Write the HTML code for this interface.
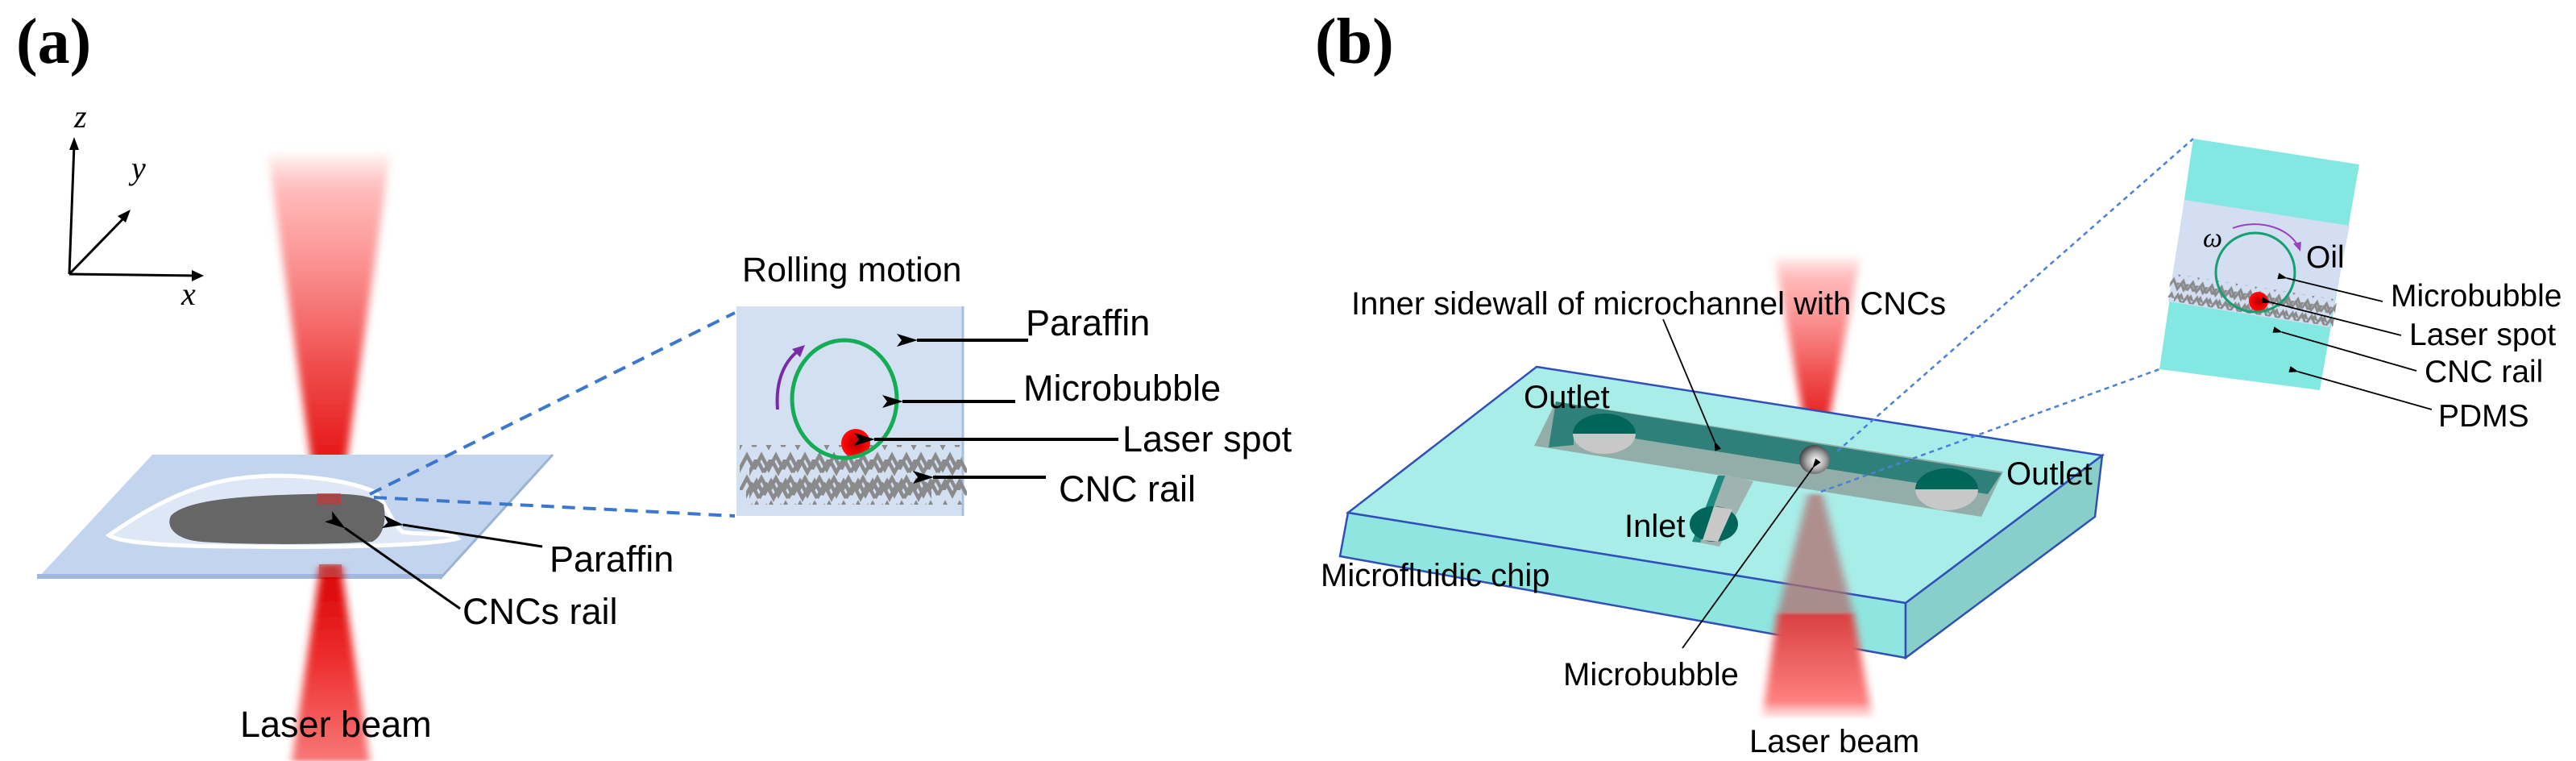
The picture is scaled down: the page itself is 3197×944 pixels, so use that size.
<!DOCTYPE html>
<html><head><meta charset="utf-8"><style>
html,body{margin:0;padding:0;background:#fff;}
svg{display:block;}
text{font-family:"Liberation Sans",sans-serif;fill:#000;}
.s{font-family:"Liberation Serif",serif;}
</style></head><body>
<svg width="3197" height="944" viewBox="0 0 3197 944" xmlns="http://www.w3.org/2000/svg">
<defs>
<linearGradient id="bt" x1="0" y1="0" x2="0" y2="1">
<stop offset="0" stop-color="#ff3030" stop-opacity="0"/>
<stop offset="0.15" stop-color="#ff8080" stop-opacity="0.6"/>
<stop offset="0.6" stop-color="#f05050"/>
<stop offset="1" stop-color="#e00000"/>
</linearGradient>
<linearGradient id="bb" x1="0" y1="0" x2="0" y2="1">
<stop offset="0" stop-color="#d80000"/>
<stop offset="0.5" stop-color="#ee3030"/>
<stop offset="1" stop-color="#f87878"/>
</linearGradient>
<linearGradient id="bb2" x1="0" y1="0" x2="0" y2="1">
<stop offset="0" stop-color="#d84040"/>
<stop offset="0.85" stop-color="#ff8080"/>
<stop offset="1" stop-color="#ffb0b0" stop-opacity="0.3"/>
</linearGradient>
<filter id="bl"><feGaussianBlur stdDeviation="5,2"/></filter>
<radialGradient id="bub" cx="0.55" cy="0.55" r="0.6">
<stop offset="0" stop-color="#fff"/><stop offset="0.5" stop-color="#aaa"/><stop offset="1" stop-color="#333"/>
</radialGradient>
<radialGradient id="rs" cx="0.5" cy="0.5" r="0.5">
<stop offset="0" stop-color="#b00000"/><stop offset="0.6" stop-color="#f00000"/><stop offset="1" stop-color="#ff1010"/>
</radialGradient>
<pattern id="zz" width="36" height="28" patternUnits="userSpaceOnUse">
<polyline points="0,22 9,5 18,22 27,5 36,22" fill="none" stroke="#8a8a8a" stroke-width="4.5"/>
</pattern>
<pattern id="zz2" width="24" height="18" patternUnits="userSpaceOnUse">
<polyline points="0,14 6,3 12,14 18,3 24,14" fill="none" stroke="#8a8a8a" stroke-width="3"/>
</pattern>
<marker id="ah" markerWidth="12" markerHeight="8" refX="1" refY="4" orient="auto" markerUnits="userSpaceOnUse">
<path d="M12,0 L0,4 L12,8 Z" fill="#000"/>
</marker>
<marker id="ahb" markerWidth="26" markerHeight="16" refX="1" refY="8" orient="auto" markerUnits="userSpaceOnUse">
<path d="M26,0 L0,8 L26,16 L20,8 Z" fill="#000"/>
</marker>
</defs>

<!-- (a) -->
<text class="s" x="20" y="78" font-size="80" font-weight="bold">(a)</text>
<g stroke="#000" stroke-width="3" fill="none">
<line x1="86" y1="340" x2="92" y2="180"/>
<line x1="86" y1="340" x2="158" y2="266"/>
<line x1="86" y1="340" x2="245" y2="342"/>
</g>
<path d="M92,170 L86,186 L98,186 Z" fill="#000"/>
<path d="M162,260 L146,268 L156,276 Z" fill="#000"/>
<path d="M253,342 L238,335 L238,349 Z" fill="#000"/>
<text class="s" x="92" y="158" font-size="40" font-style="italic">z</text>
<text class="s" x="163" y="222" font-size="40" font-style="italic">y</text>
<text class="s" x="225" y="378" font-size="40" font-style="italic">x</text>

<polygon points="332,187 485,187 423,620 393,620" fill="url(#bt)" filter="url(#bl)"/>
<polygon points="189,564 686,564 546,718 46,718" fill="#c3d4ee"/>
<polygon points="46,712 550,712 546,718 46,718" fill="#9fb8dc"/>
<line x1="686" y1="564" x2="546" y2="718" stroke="#9ab2d6" stroke-width="3"/>
<path d="M135,664 C170,640 230,600 300,593 C360,585 430,595 465,610 C480,625 485,648 500,660 C530,664 560,660 568,668 C540,676 420,680 300,678 C220,678 150,674 135,664 Z" fill="#dde7f6" stroke="#fff" stroke-width="5"/>
<path d="M212,640 C230,620 300,615 380,613 C430,612 460,612 476,626 C480,645 476,665 462,672 C400,676 300,676 250,672 C220,670 205,655 212,640 Z" fill="#666"/>
<rect x="393" y="612" width="30" height="14" fill="#d03030" opacity="0.6"/>
<polygon points="398,702 423,702 459,944 362,944" fill="url(#bb)" filter="url(#bl)"/>
<rect x="396" y="700" width="28" height="16" fill="#c05050" opacity="0.7"/>
<line x1="673" y1="678" x2="500" y2="651" stroke="#000" stroke-width="3" marker-end="url(#ahb)"/>
<text x="682" y="709" font-size="45">Paraffin</text>
<line x1="571" y1="755" x2="428" y2="655" stroke="#000" stroke-width="3" marker-end="url(#ahb)"/>
<text x="574" y="774" font-size="45">CNCs rail</text>
<text x="298" y="914" font-size="45">Laser beam</text>
<g stroke="#3a78d0" stroke-width="4" stroke-dasharray="16,10" fill="none">
<line x1="459" y1="613" x2="912" y2="388"/>
<line x1="464" y1="617" x2="912" y2="640"/>
</g>
<rect x="914" y="380" width="281" height="260" fill="#d3e0f2"/>
<line x1="1195" y1="380" x2="1195" y2="640" stroke="#a8bfe2" stroke-width="3"/>
<rect x="918" y="552" width="276" height="56" fill="url(#zz)"/>
<rect x="918" y="566" width="270" height="56" fill="url(#zz)" transform="translate(12,4)"/>
<rect x="920" y="590" width="230" height="28" fill="url(#zz)" transform="translate(6,8)"/>
<ellipse cx="1062" cy="550" rx="18" ry="18" fill="url(#rs)"/>
<ellipse cx="1048" cy="495" rx="65" ry="73" fill="none" stroke="#14ad55" stroke-width="5"/>
<path d="M965,508 C962,470 975,445 995,432" fill="none" stroke="#7a2aa8" stroke-width="4"/>
<path d="M999,428 L983,433 L993,443 Z" fill="#7a2aa8"/>
<text x="921" y="349" font-size="43">Rolling motion</text>
<g stroke="#000" stroke-width="4">
<line x1="1276" y1="422" x2="1138" y2="422" marker-end="url(#ahb)"/>
<line x1="1260" y1="498" x2="1120" y2="498" marker-end="url(#ahb)"/>
<line x1="1388" y1="545" x2="1085" y2="545" marker-end="url(#ahb)"/>
<line x1="1298" y1="592" x2="1158" y2="592" marker-end="url(#ahb)"/>
</g>
<text x="1273" y="416" font-size="45">Paraffin</text>
<text x="1270" y="497" font-size="45">Microbubble</text>
<text x="1393" y="560" font-size="45">Laser spot</text>
<text x="1314" y="622" font-size="45">CNC rail</text>

<!-- (b) -->
<text class="s" x="1632" y="78" font-size="80" font-weight="bold">(b)</text>
<polygon points="2202,316 2309,316 2262,561 2246,561" fill="url(#bt)" filter="url(#bl)"/>
<polygon points="1907,455 2609,565 2365,748 1673,636" fill="#a9ede8" stroke="#3050b8" stroke-width="2.5"/>
<polygon points="1673,636 2365,748 2365,816 1663,690" fill="#8fe6e0" stroke="#3050b8" stroke-width="2.5"/>
<polygon points="2609,565 2600,641 2365,816 2365,748" fill="#88cfca" stroke="#3050b8" stroke-width="2.5"/>
<polygon points="1931,498 2486,585 2459,641 1904,553" fill="#93aea9"/>
<polygon points="1953,502 2484,587 2467,613 1953,532" fill="#2f807a"/>
<polygon points="1931,498 1953,502 1953,552 1922,555" fill="#2f807a"/>
<path d="M1952,538 A39,25 0 0,1 2030,538 Z" fill="#00665c"/>
<path d="M1952,538 A39,25 0 0,0 2030,538 Z" fill="#c8c8c8"/>
<path d="M2377,607 A39,26 0 0,1 2455,607 Z" fill="#00665c"/>
<path d="M2377,607 A39,26 0 0,0 2455,607 Z" fill="#c8c8c8"/>
<polygon points="2134,587 2176,597 2134,678 2103,672" fill="#9fb4b0"/>
<polygon points="2132,590 2141,590 2110,673 2100,672" fill="#1d8a80"/>
<ellipse cx="2127" cy="650" rx="30" ry="22" fill="#00665c"/>
<path d="M2127,628 L2150,632 L2132,672 L2113,670 Z" fill="#c8c8c8"/>
<polygon points="2244,613 2262,613 2300,760 2206,760" fill="#b07070" opacity="0.75" filter="url(#bl)"/>
<polygon points="2206,760 2300,760 2324,890 2187,890" fill="url(#bb2)" filter="url(#bl)"/>
<ellipse cx="2252" cy="570" rx="19" ry="18" fill="url(#bub)"/>
<g stroke="#4a80d8" stroke-width="2.5" stroke-dasharray="6,5" fill="none">
<line x1="2280" y1="560" x2="2722" y2="172"/>
<line x1="2260" y1="610" x2="2680" y2="458"/>
</g>
<polygon points="2722,172 2928,204 2879,484 2680,458" fill="#84e8e2"/>
<polygon points="2711,248 2916,280 2891,406 2691,374" fill="#d3def2"/>
<g transform="rotate(9 2800 380)">
<rect x="2690" y="356" width="208" height="30" fill="url(#zz2)"/>
<rect x="2690" y="366" width="200" height="24" fill="url(#zz2)" transform="translate(8,0)"/>
</g>
<ellipse cx="2803" cy="374" rx="12" ry="12" fill="url(#rs)"/>
<ellipse cx="2799" cy="338" rx="49" ry="49" fill="none" stroke="#14a070" stroke-width="3"/>
<path d="M2771,283 C2800,272 2838,280 2852,305" fill="none" stroke="#9a40c0" stroke-width="2"/>
<path d="M2855,312 L2846,302 L2856,300 Z" fill="#9a40c0"/>
<text class="s" x="2734" y="306" font-size="34" font-style="italic">ω</text>
<text x="2862" y="332" font-size="39">Oil</text>
<g stroke="#000" stroke-width="1.8">
<line x1="2957" y1="374" x2="2838" y2="345" marker-end="url(#ah)"/>
<line x1="2980" y1="416" x2="2818" y2="375" marker-end="url(#ah)"/>
<line x1="2999" y1="460" x2="2832" y2="412" marker-end="url(#ah)"/>
<line x1="3018" y1="508" x2="2852" y2="461" marker-end="url(#ah)"/>
</g>
<text x="2967" y="380" font-size="39">Microbubble</text>
<text x="2990" y="428" font-size="39">Laser spot</text>
<text x="3009" y="474" font-size="39">CNC rail</text>
<text x="3026" y="529" font-size="39">PDMS</text>
<text x="1677" y="390" font-size="40">Inner sidewall of microchannel with CNCs</text>
<line x1="2064" y1="396" x2="2128" y2="548" stroke="#000" stroke-width="1.8" marker-end="url(#ah)"/>
<text x="1891" y="506" font-size="40">Outlet</text>
<text x="2490" y="601" font-size="40">Outlet</text>
<text x="2016" y="666" font-size="40">Inlet</text>
<text x="1639" y="727" font-size="40">Microfluidic chip</text>
<line x1="2088" y1="804" x2="2250" y2="580" stroke="#000" stroke-width="1.8" marker-end="url(#ah)"/>
<text x="1940" y="850" font-size="40">Microbubble</text>
<text x="2171" y="933" font-size="40">Laser beam</text>
</svg>
</body></html>
